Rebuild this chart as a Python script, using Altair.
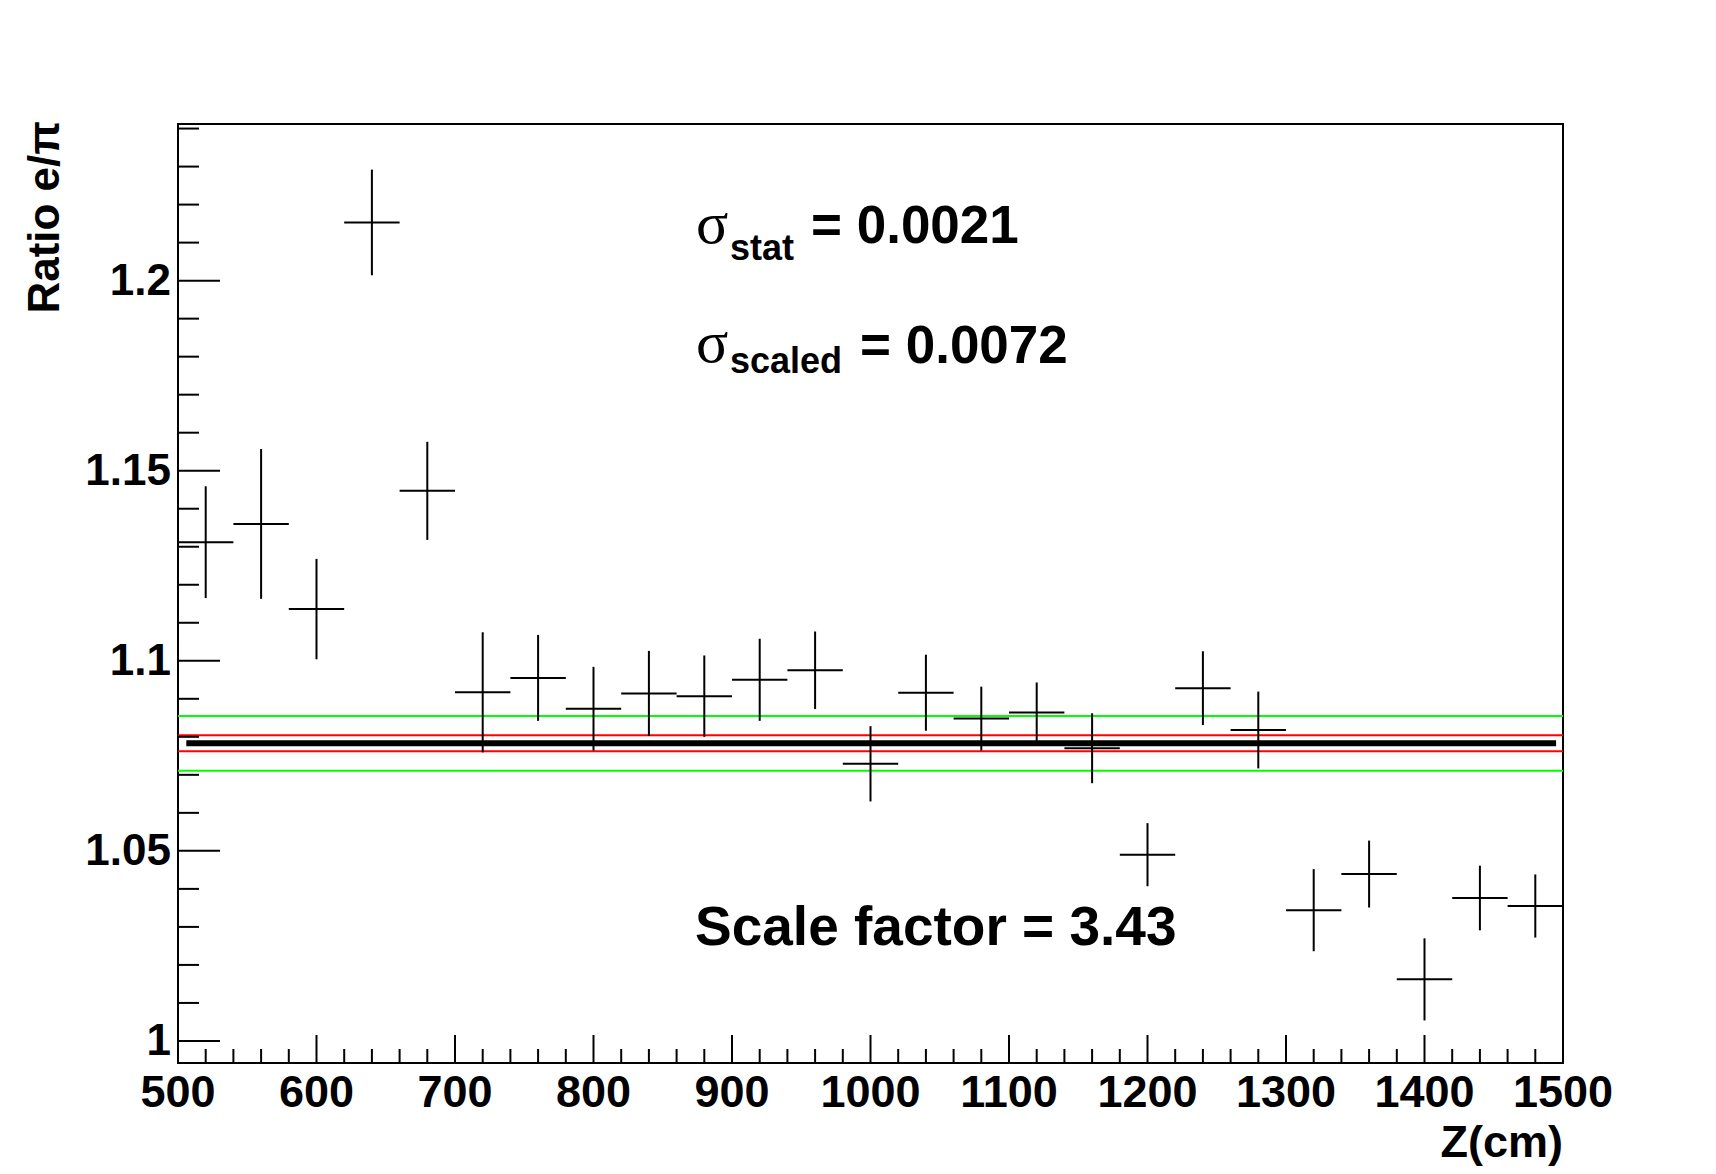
import altair as alt
import pandas as pd

# ---------------- data ----------------
z_cm = [520, 560, 600, 640, 680, 720, 760, 800, 840, 880, 920, 960, 1000,
        1040, 1080, 1120, 1160, 1200, 1240, 1280, 1320, 1360, 1400, 1440, 1480]
ratio = [1.1312, 1.1360, 1.1136, 1.2153, 1.1447, 1.0917, 1.0955, 1.0874,
         1.0914, 1.0907, 1.0950, 1.0975, 1.0729, 1.0916, 1.0848, 1.0864,
         1.0770, 1.0490, 1.0928, 1.0818, 1.0344, 1.0439, 1.0162, 1.0376, 1.0355]
ratio_err = [0.0147, 0.0197, 0.0132, 0.0139, 0.0129, 0.0158, 0.0113, 0.0110,
             0.0112, 0.0107, 0.0108, 0.0102, 0.0099, 0.0100, 0.0084, 0.0079,
             0.0092, 0.0083, 0.0097, 0.0101, 0.0108, 0.0088, 0.0108, 0.0085, 0.0083]
bin_half_width = 20

mean_ratio = 1.0783
sigma_stat = 0.0021
sigma_scaled = 0.0072
scale_factor = "3.43"
stat_text = "0.0021"
scaled_text = "0.0072"
fit_range = [506, 1495]

x_domain = [500, 1500]
y_domain = [0.9942, 1.2412]
x_major = [500, 600, 700, 800, 900, 1000, 1100, 1200, 1300, 1400, 1500]
x_major_labels = ["500", "600", "700", "800", "900", "1000", "1100", "1200",
                  "1300", "1400", "1500"]
x_minor = [520, 540, 560, 580, 620, 640, 660, 680, 720, 740, 760, 780, 820, 840,
           860, 880, 920, 940, 960, 980, 1020, 1040, 1060, 1080, 1120, 1140,
           1160, 1180, 1220, 1240, 1260, 1280, 1320, 1340, 1360, 1380, 1420,
           1440, 1460, 1480]
y_major = [1.0, 1.05, 1.1, 1.15, 1.2]
y_major_labels = ["1", "1.05", "1.1", "1.15", "1.2"]
y_minor = [1.01, 1.02, 1.03, 1.04, 1.06, 1.07, 1.08, 1.09, 1.11, 1.12, 1.13,
           1.14, 1.16, 1.17, 1.18, 1.19, 1.21, 1.22, 1.23, 1.24]

x_title = "Z(cm)"
y_title = "Ratio e/π"

# ---------------- layout ----------------
W, H = 1385, 939
FONT = "Liberation Sans"

df = pd.DataFrame({"z": z_cm, "r": ratio, "e": ratio_err})
df["lo"] = df["r"] - df["e"]
df["hi"] = df["r"] + df["e"]
df["zl"] = df["z"] - bin_half_width
df["zr"] = df["z"] + bin_half_width

xs = alt.Scale(domain=x_domain, nice=False, zero=False)
ys = alt.Scale(domain=y_domain, nice=False, zero=False)

vbars = alt.Chart(df).mark_rule(color="black", strokeWidth=2).encode(
    x=alt.X("z:Q", scale=xs, axis=None),
    y=alt.Y("lo:Q", scale=ys, axis=None),
    y2="hi:Q",
)
hbars = alt.Chart(df).mark_rule(color="black", strokeWidth=2).encode(
    x=alt.X("zl:Q", scale=xs, axis=None),
    x2="zr:Q",
    y=alt.Y("r:Q", scale=ys, axis=None),
)

bands = pd.DataFrame({
    "y": [mean_ratio + sigma_scaled, mean_ratio - sigma_scaled,
          mean_ratio + sigma_stat, mean_ratio - sigma_stat],
    "kind": ["scaled", "scaled", "stat", "stat"],
    "x0": [x_domain[0]] * 4,
    "x1": [x_domain[1]] * 4,
})
band_lines = alt.Chart(bands).mark_rule(strokeWidth=2).encode(
    x=alt.X("x0:Q", scale=xs, axis=None),
    x2="x1:Q",
    y=alt.Y("y:Q", scale=ys, axis=None),
    color=alt.Color("kind:N", scale=alt.Scale(domain=["scaled", "stat"],
                                              range=["#00ff00", "#ff0000"]),
                    legend=None),
)

fit = alt.Chart(pd.DataFrame({"x0": [fit_range[0]], "x1": [fit_range[1]],
                              "y": [mean_ratio]})).mark_rule(
    color="black", strokeWidth=6).encode(
    x=alt.X("x0:Q", scale=xs, axis=None),
    x2="x1:Q",
    y=alt.Y("y:Q", scale=ys, axis=None),
)

# inward ticks
def yticks(vals, length):
    return alt.Chart(pd.DataFrame({"v": vals})).mark_rule(
        color="black", strokeWidth=2).encode(
        y=alt.Y("v:Q", scale=ys, axis=None),
        x=alt.value(0), x2=alt.value(length))

def xticks(vals, length):
    return alt.Chart(pd.DataFrame({"v": vals})).mark_rule(
        color="black", strokeWidth=2).encode(
        x=alt.X("v:Q", scale=xs, axis=None),
        y=alt.value(H), y2=alt.value(H - length))

# tick labels
x_labels = alt.Chart(pd.DataFrame({"v": x_major, "t": x_major_labels})).mark_text(
    align="center", baseline="alphabetic", font=FONT, fontSize=45,
    fontWeight="bold", color="black").encode(
    x=alt.X("v:Q", scale=xs, axis=None), y=alt.value(H + 44), text="t:N")

y_labels = alt.Chart(pd.DataFrame({"v": y_major, "t": y_major_labels})).mark_text(
    align="right", baseline="alphabetic", font=FONT, fontSize=44,
    fontWeight="bold", color="black", dy=14).encode(
    y=alt.Y("v:Q", scale=ys, axis=None), x=alt.value(-7), text="t:N")

def label(text, x, y, size, font=FONT, weight="bold", align="left", angle=0):
    return alt.Chart(pd.DataFrame({"t": [text]})).mark_text(
        align=align, baseline="alphabetic", font=font, fontSize=size,
        fontWeight=weight, color="black", angle=angle).encode(
        x=alt.value(x), y=alt.value(y), text="t:N")

texts = [
    label(x_title, W, H + 94, 45, align="right"),
    label(y_title, -119, -3, 44, align="right", angle=270),
    label("σ", 518, 119, 60, font="Liberation Serif", weight="normal"),
    label("stat", 552, 136, 36),
    label("= " + stat_text, 633, 119, 53),
    label("σ", 518, 238, 60, font="Liberation Serif", weight="normal"),
    label("scaled", 552, 249, 36),
    label("= " + scaled_text, 682, 239, 53),
    label("Scale factor = " + scale_factor, 517, 821, 55),
]

chart = alt.layer(
    band_lines, vbars, hbars, fit,
    yticks(y_major, 42), yticks(y_minor, 21),
    xticks(x_major, 28), xticks(x_minor, 14),
    x_labels, y_labels,
    *texts,
).properties(
    width=W, height=H,
    autosize=alt.AutoSizeParams(type="none"),
    padding={"left": 170, "top": 116, "right": 145, "bottom": 104},
    background="white",
).configure_view(
    stroke="black", strokeWidth=2,
)

chart.save("out.html", embed_options={"renderer": "svg", "actions": False})
